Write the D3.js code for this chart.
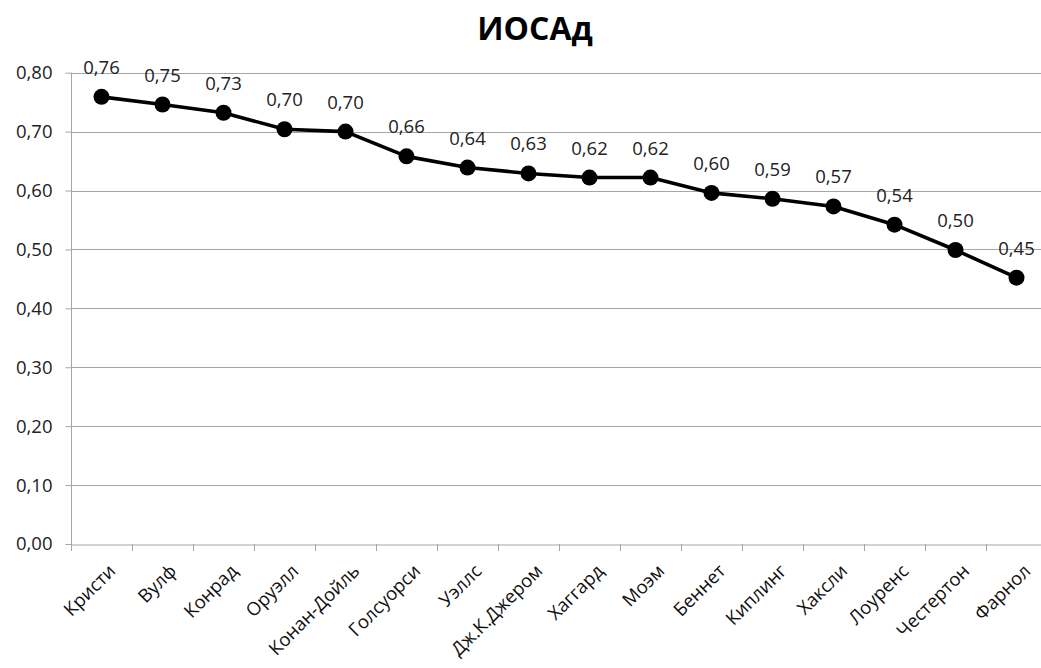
<!DOCTYPE html>
<html>
<head>
<meta charset="utf-8">
<script src="https://cdn.jsdelivr.net/npm/d3@7"></script>
<style>
  html, body { margin: 0; padding: 0; background: #fff; }
  svg { display: block; font-family: "Open Sans", sans-serif; }
</style>
</head>
<body>
<svg id="chart" width="1041" height="668"></svg>
<script>
// Authors and their ИОСАд index
const authors = ["Кристи", "Вулф", "Конрад", "Оруэлл", "Конан-Дойль", "Голсуорси", "Уэллс",
  "Дж.К.Джером", "Хаггард", "Моэм", "Беннет", "Киплинг", "Хаксли", "Лоуренс", "Честертон", "Фарнол"];
const values = [0.759, 0.746, 0.732, 0.704, 0.700, 0.658, 0.639, 0.629, 0.622, 0.622,
  0.596, 0.586, 0.573, 0.542, 0.499, 0.452];
const yTicks = [0, 0.1, 0.2, 0.3, 0.4, 0.5, 0.6, 0.7, 0.8];
const title = "ИОСАд";

const fmt = v => d3.format(".2f")(v).replace(".", ",");

const svg = d3.select("#chart");
const plotLeft = 71, plotRight = 1047, plotTop = 72.7, plotBottom = 544;
const fontSize = 18.5;

const x = d3.scaleBand().domain(authors).range([plotLeft, plotRight]);
const y = d3.scaleLinear().domain([0, 0.8]).range([plotBottom, plotTop]);

// Title
svg.append("text")
  .attr("x", 535).attr("y", 40)
  .attr("text-anchor", "middle")
  .attr("font-size", 32).attr("font-weight", "bold")
  .attr("fill", "#000")
  .text(title);

// Horizontal gridlines
svg.append("g")
  .selectAll("line")
  .data(yTicks.slice(1))
  .join("line")
  .attr("x1", plotLeft).attr("x2", plotRight)
  .attr("y1", d => Math.round(y(d)) + 0.5).attr("y2", d => Math.round(y(d)) + 0.5)
  .attr("stroke", "#a6a6a6").attr("stroke-width", 1);

// Y axis
const yAxis = svg.append("g")
  .attr("transform", `translate(${plotLeft + 0.5},0)`)
  .call(d3.axisLeft(y).tickValues(yTicks).tickFormat(fmt).tickSize(6).tickPadding(13));
yAxis.select(".domain").attr("stroke", "#a6a6a6").attr("d", `M0,${plotTop}V${plotBottom}`);
yAxis.selectAll(".tick line").attr("stroke", "#a6a6a6");
yAxis.selectAll(".tick text").attr("font-size", fontSize).attr("fill", "#222")
  .attr("font-family", "Open Sans, sans-serif");

// X axis
const xAxis = svg.append("g")
  .attr("transform", `translate(0,${Math.round(plotBottom) + 0.5})`)
  .call(d3.axisBottom(x).tickSize(0).tickFormat(""));
xAxis.select(".domain").attr("stroke", "#a6a6a6");
xAxis.selectAll(".tick").remove();

// Boundary tick marks between categories
svg.append("g")
  .selectAll("line")
  .data(d3.range(authors.length + 1))
  .join("line")
  .attr("x1", i => Math.round(plotLeft + i * x.step()) + 0.5)
  .attr("x2", i => Math.round(plotLeft + i * x.step()) + 0.5)
  .attr("y1", Math.round(plotBottom)).attr("y2", Math.round(plotBottom) + 7)
  .attr("stroke", "#a6a6a6");

// Rotated category labels
svg.append("g")
  .selectAll("text")
  .data(authors)
  .join("text")
  .attr("transform", d => `translate(${x(d) + x.bandwidth() / 2 + 6},${plotBottom + 19}) rotate(-45)`)
  .attr("text-anchor", "end")
  .attr("dy", "0.7em")
  .attr("font-size", fontSize)
  .attr("fill", "#111")
  .text(d => d);

// Line
const cx = d => x(d) + x.bandwidth() / 2;
const line = d3.line().x((d, i) => cx(authors[i])).y(d => y(d));
svg.append("path")
  .datum(values)
  .attr("d", line)
  .attr("fill", "none")
  .attr("stroke", "#000")
  .attr("stroke-width", 3.6)
  .attr("stroke-linejoin", "round");

// Markers
svg.append("g")
  .selectAll("circle")
  .data(values)
  .join("circle")
  .attr("cx", (d, i) => cx(authors[i]))
  .attr("cy", d => y(d))
  .attr("r", 8)
  .attr("fill", "#000");

// Value labels
svg.append("g")
  .selectAll("text")
  .data(values)
  .join("text")
  .attr("x", (d, i) => cx(authors[i]))
  .attr("y", d => y(d) - 23)
  .attr("text-anchor", "middle")
  .attr("font-size", fontSize)
  .attr("fill", "#222")
  .text(fmt);
</script>
</body>
</html>
